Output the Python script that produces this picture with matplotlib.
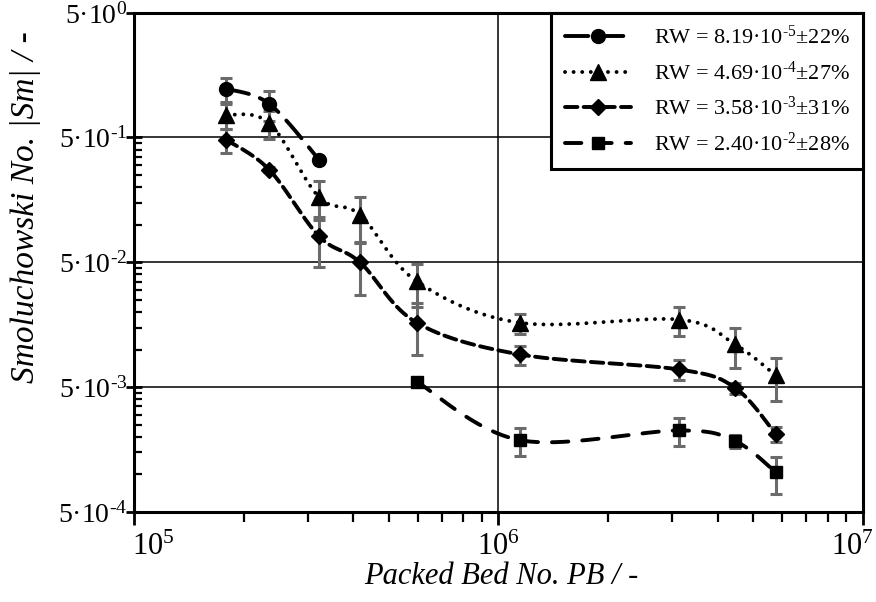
import numpy as np
import matplotlib
matplotlib.use("Agg")
import matplotlib.pyplot as plt
import matplotlib.transforms as mtransforms
from matplotlib.lines import Line2D
from matplotlib.ticker import FixedLocator, FixedFormatter, NullFormatter

plt.rcParams['font.family'] = ['Liberation Serif', 'DejaVu Serif']
plt.rcParams['mathtext.fontset'] = 'custom'
plt.rcParams['mathtext.rm'] = 'Liberation Serif'
plt.rcParams['mathtext.it'] = 'Liberation Serif:italic'

# packed bed numbers (x)
pb_circ = [1.79e5, 2.35e5, 3.22e5]
pb_all = [1.79e5, 2.35e5, 3.22e5, 4.17e5, 5.97e5, 1.146e6, 3.13e6, 4.46e6, 5.77e6]
pb_diam = pb_all
pb_sq = [5.97e5, 1.146e6, 3.13e6, 4.46e6, 5.77e6]

# Smoluchowski numbers
sm_circ = [1.23, 0.93, 0.332]
sm_tri = [0.76, 0.652, 0.166, 0.120, 0.0352, 0.0164, 0.0174, 0.011, 0.0062]
sm_diam = [0.48, 0.276, 0.0807, 0.050, 0.0164, 0.00914, 0.00693, 0.00494, 0.0021]
sm_sq = [0.00552, 0.00188, 0.00225, 0.00185, 0.00104]

# relative error bars
err_circ = [0.22, 0.27, 0.0]
err_tri = [0.23, 0.25, 0.34, 0.40, 0.38, 0.18, 0.26, 0.35, 0.37]
err_diam = [0.22, 0.05, 0.43, 0.45, 0.45, 0.17, 0.18, 0.10, 0.14]
err_sq = [0.0, 0.25, 0.25, 0.12, 0.33]

labels = [r'RW = 8.19·10$^{\text{-5}}$±22%', r'RW = 4.69·10$^{\text{-4}}$±27%',
          r'RW = 3.58·10$^{\text{-3}}$±31%', r'RW = 2.40·10$^{\text{-2}}$±28%']

y_ticks = [5e-4, 5e-3, 5e-2, 5e-1, 5]
y_ticklabels = [r'5·10$^{\text{-4}}$', r'5·10$^{\text{-3}}$', r'5·10$^{\text{-2}}$',
                r'5·10$^{\text{-1}}$', r'5·10$^{\text{0}}$']
x_ticks = [1e5, 1e6, 1e7]
x_ticklabels = [r'10$^{\text{5}}$', r'10$^{\text{6}}$', r'10$^{\text{7}}$']


def smooth(xs, ys, n=40):
    # Catmull-Rom curve in log-log space (like a spreadsheet "smoothed line")
    lx = np.log10(xs)
    ly = np.log10(ys)
    px = np.concatenate([[lx[0]], lx, [lx[-1]]])
    py = np.concatenate([[ly[0]], ly, [ly[-1]]])
    ox, oy = [], []
    t = np.linspace(0, 1, n)
    for i in range(1, len(px) - 2):
        for p, out in ((px, ox), (py, oy)):
            p0, p1, p2, p3 = p[i - 1], p[i], p[i + 1], p[i + 2]
            c1 = p1 + (p2 - p0) / 6
            c2 = p2 - (p3 - p1) / 6
            out.extend((1 - t) ** 3 * p1 + 3 * (1 - t) ** 2 * t * c1 + 3 * (1 - t) * t ** 2 * c2 + t ** 3 * p2)
    return 10 ** np.array(ox), 10 ** np.array(oy)


fig = plt.figure(figsize=(8.76, 6.02), dpi=100)
ax = fig.add_axes([0.153, 0.1495, 0.832, 0.8295])

series = [
    (pb_circ, sm_circ, err_circ, 'o', 10, (6, 3)),
    (pb_all, sm_tri, err_tri, '^', 11, (0.01, 2.2)),
    (pb_diam, sm_diam, err_diam, 'D', 8, (3.2, 1.6)),
    (pb_sq, sm_sq, err_sq, 's', 9, (4.2, 3.6)),
]

handles = []
for (xs, ys, er, mk, ms, dash), lab in zip(series, labels):
    xs = np.array(xs)
    ys = np.array(ys)
    er = np.array(er)
    ax.errorbar(xs, ys, yerr=[ys * er, ys * er], fmt='none', ecolor='#6b6b6b',
                elinewidth=2.2, capsize=4.5, capthick=2.2, zorder=3)
    sx, sy = smooth(xs, ys)
    ax.plot(sx, sy, color='black', lw=2.8, dashes=dash, dash_capstyle='round', zorder=4)
    ax.plot(xs, ys, ls='none', marker=mk, ms=ms, color='black', zorder=5)
    handles.append(Line2D([], [], color='black', lw=2.8, dashes=dash, dash_capstyle='round',
                          marker=mk, ms=ms, label=lab))

ax.set_xscale('log')
ax.set_yscale('log')
ax.set_xlim(1e5, 1e7)
ax.set_ylim(5e-4, 5)

ymin = [m * 10.0 ** k for k in range(-4, 0) for m in (1, 1.5, 2, 2.5, 3, 3.5, 4, 4.5)]
ax.yaxis.set_major_locator(FixedLocator(y_ticks))
ax.yaxis.set_major_formatter(FixedFormatter(y_ticklabels))
ax.yaxis.set_minor_locator(FixedLocator(ymin))
ax.yaxis.set_minor_formatter(NullFormatter())
ax.xaxis.set_major_locator(FixedLocator(x_ticks))
ax.xaxis.set_major_formatter(FixedFormatter(x_ticklabels))

ax.grid(True, which='major', color='black', lw=1.1)
ax.set_axisbelow(True)
ax.tick_params(axis='y', which='major', direction='inout', length=12, width=2, labelsize=20, pad=-1)
ax.tick_params(axis='y', which='minor', direction='in', length=6, width=1.6)
ax.tick_params(axis='x', which='major', direction='out', length=9, width=2, labelsize=22, pad=6)
ax.tick_params(axis='x', which='minor', direction='out', length=7, width=1.6)
for s in ax.spines.values():
    s.set_linewidth(2.2)

# keep the end labels of the x axis inside the figure
fig.canvas.draw()
xl = ax.get_xticklabels()
xl[0].set_horizontalalignment('left')
xl[0].set_transform(xl[0].get_transform() + mtransforms.ScaledTranslation(-0.02, 0, fig.dpi_scale_trans))
xl[-1].set_horizontalalignment('right')
xl[-1].set_transform(xl[-1].get_transform() + mtransforms.ScaledTranslation(0.11, 0, fig.dpi_scale_trans))
yl = ax.get_yticklabels()
yl[-1].set_verticalalignment('top')
yl[-1].set_transform(yl[-1].get_transform() + mtransforms.ScaledTranslation(0, 0.1, fig.dpi_scale_trans))

fig.text(0.029, 1 - 207 / 602, 'Smoluchowski No. |Sm| / -', rotation=90, style='italic',
         fontsize=24, ha='center', va='center')
fig.text(0.572, 1 - 577 / 602, 'Packed Bed No. PB / -', style='italic', fontsize=22,
         ha='center', va='center')

leg = ax.legend(handles=handles, loc='upper right', fontsize=16, frameon=True, fancybox=False,
                borderaxespad=0, handlelength=3.0, handletextpad=1.0, labelspacing=0.55,
                borderpad=0.6, framealpha=1, edgecolor='black')
leg.get_frame().set_linewidth(2.2)
leg.set_zorder(10)

fig.savefig('out.png', dpi=100)
